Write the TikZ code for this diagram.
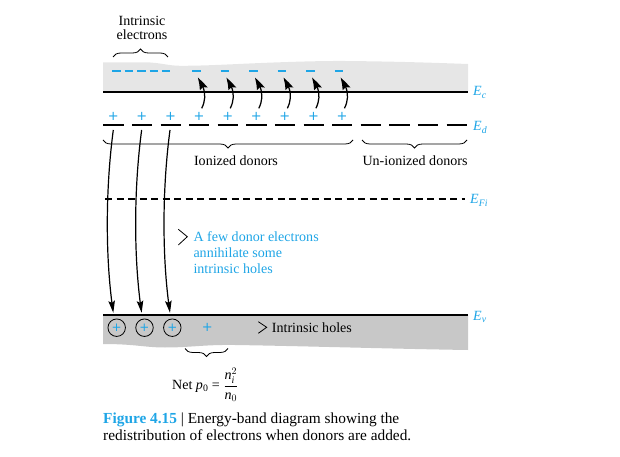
\documentclass[tikz,border=0pt]{standalone}
\usepackage{fontspec}
\setmainfont{Liberation Serif}
\newfontfamily\plusfont{DejaVu Sans}
\usetikzlibrary{arrows.meta,decorations.pathreplacing,bending,calc}
\definecolor{eblue}{RGB}{30,165,230}
\definecolor{cbgray}{RGB}{230,230,230}
\definecolor{vbgray}{RGB}{200,200,200}
\begin{document}
\begin{tikzpicture}[x=1bp,y=-1bp,
  lbl/.style={inner sep=0pt, font=\fontsize{14.1}{16}\selectfont},
  bluelbl/.style={lbl, text=eblue, anchor=base west},
  captext/.style={inner sep=0pt, anchor=base west, font=\fontsize{15.4}{17.4}\selectfont},
  elvl/.style={inner sep=0pt, anchor=base west, text=eblue, font=\fontsize{14.1}{16}\selectfont\itshape},
  plussign/.style={inner sep=0pt, text=eblue, font=\plusfont\fontsize{13}{13}\selectfont},
  level/.style={line width=2bp},
  ebar/.style={draw=eblue, line width=1.3bp},
  jump/.style={line width=1.25bp, -{Stealth[length=13bp,width=8bp,inset=2bp,bend]}},
  fall/.style={line width=1.2bp, -{Stealth[length=12bp,width=6.5bp,inset=2bp]}},
  brc/.style={decorate, decoration={brace, amplitude=8bp}, line width=0.8bp},
  chev/.style={line width=0.8bp},
  hole/.style={circle, draw, line width=0.8bp, minimum size=17.5bp, inner sep=0pt, text=eblue, font=\plusfont\fontsize{12}{12}\selectfont}
]
\useasboundingbox (0,0) rectangle (620,457);
% bands
\fill[cbgray] (103,62.3) -- (145,62.3) .. controls (160,62.5) and (168,65.7) .. (180,65.8)
  .. controls (200,65.8) and (215,65) .. (232,64.3) .. controls (280,62) and (320,60.8) .. (345,61)
  .. controls (400,61.5) and (440,63) .. (468,64) -- (468,92) -- (103,92) -- cycle;
\fill[vbgray] (103,315) -- (468,315) -- (468,350) .. controls (400,349) and (300,346) .. (235,345)
  .. controls (205,344.5) and (190,347.5) .. (165,347.5) .. controls (145,347.5) and (135,344) .. (103,344) -- cycle;
% levels
\draw[level] (103,92) -- (468,92);
\draw[level] (103,315) -- (468,315);
\foreach \k in {0,...,12} \draw[level] ({103.3+28.6*\k},125) -- ++(20.3,0);
\draw[line width=1.6bp, dash pattern=on 7bp off 4.5bp] (105,199) -- (465,199);
\node[elvl] (Ec) at (473,96) {E\textsubscript{c}};
\node[elvl] (Ed) at (473,131) {E\textsubscript{d}};
\node[elvl] (Efi) at (470,204) {E\textsubscript{Fi}};
\node[elvl] (Ev) at (473,320.7) {E\textsubscript{v}};
% intrinsic electrons
\foreach \k in {0,...,4} \draw[ebar] ({112.3+12.4*\k},71) -- ++(8.5,0);
\foreach \k in {0,...,5} \draw[ebar] ({192.05+28.55*\k},71) -- ++(8.5,0);
% donor plus signs
\foreach \k in {0,...,8} \node[plussign] (dp\k) at ({113.3+28.6*\k},116.7) {+};
% jumps to conduction band
\foreach \k in {0,...,5} {
  \coordinate (js\k) at ({201.7+28.55*\k},108.3);
  \coordinate (jt\k) at ({197.7+28.55*\k},77.7);
  \draw[jump] (js\k) .. controls ($(js\k)+(5,-10)$) and ($(js\k)+(4,-20)$) .. (jt\k);
}
% holes
\foreach \k in {0,...,2} \node[hole] (h\k) at ({116.7+27.8*\k},327.7) {+};
\node[plussign] (hfree) at (207.3,327) {+};
% falls to valence band
\foreach \k in {0,...,2} {
  \coordinate (fs\k) at ({113.3+28.35*\k},130);
  \coordinate (ft\k) at ({113.3+28.35*\k},312.8);
  \draw[fall] (fs\k) .. controls ($(fs\k)+(-8,60)$) and ($(fs\k)+(-8,130)$) .. (ft\k);
}
% braces
\draw[brc] (113,57) -- (168,57);
\draw[brc] (353,140) -- (103,140);
\draw[brc] (467,140) -- (362,140);
\draw[brc] (228,348.5) -- (185,348.5);
% labels
\node[lbl, anchor=base] (int1) at (142,25.7) {Intrinsic};
\node[lbl, anchor=base] (int2) at (142,40) {electrons};
\node[lbl, anchor=base] (ion) at (236,166) {Ionized donors};
\node[lbl, anchor=base] (union) at (415,166) {Un-ionized donors};
\draw[chev] (178.3,229.3) -- (187.3,236.7) -- (178.3,245);
\node[bluelbl] (af1) at (193.3,241.7) {A few donor electrons};
\node[bluelbl] (af2) at (193.3,257.3) {annihilate some};
\node[bluelbl] (af3) at (193.3,273.3) {intrinsic holes};
\draw[chev] (258.3,321.7) -- (266.7,327.3) -- (258.3,333.3);
\node[lbl, anchor=base west] (ih) at (271.7,332.3) {Intrinsic holes};
\node[lbl, anchor=base west] (net) at (172,389.3) {Net \textit{p}\textsubscript{0} = $\displaystyle\frac{\mbox{\itshape n}^{2}_{\mbox{\fontsize{10}{10}\selectfont\itshape i}}}{\mbox{\itshape n}_{0}}$};
% caption
\node[captext] (cap1) at (103,423.3) {\textcolor{eblue}{\bfseries Figure 4.15} | Energy-band diagram showing the};
\node[captext] (cap2) at (103,440.7) {redistribution of electrons when donors are added.};
\end{tikzpicture}
\end{document}
